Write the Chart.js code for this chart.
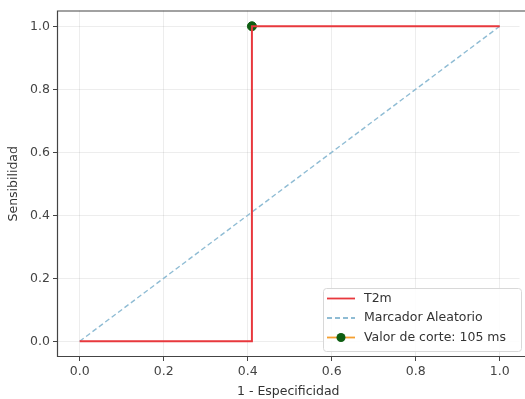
<!DOCTYPE html>
<html>
<head>
<meta charset="utf-8">
<script src="https://cdn.jsdelivr.net/npm/chart.js@4"></script>
<style>
  html, body { margin: 0; padding: 0; background: #fff; }
  #wrap { width: 525px; height: 399px; }
</style>
</head>
<body>
<div id="wrap"><canvas id="roc"></canvas></div>
<script>
// ROC curve (T2m)
const fpr = [0, 0.41, 0.41, 1];
const tpr = [0, 0, 1, 1];
const randomX = [0, 1];
const randomY = [0, 1];
const cutX = [0.41];
const cutY = [1];
const tickValues = [0, 0.2, 0.4, 0.6, 0.8, 1.0];

const legendItems = [
  { label: "T2m", color: "#e8383d", dash: [], dot: false },
  { label: "Marcador Aleatorio", color: "#8fbcd4", dash: [5, 3], dot: false },
  { label: "Valor de corte: 105 ms", color: "#f5a030", dash: [], dot: true },
];

const toPoints = (xs, ys) => xs.map((x, i) => ({ x: x, y: ys[i] }));

const frame = {
  id: "frame",
  afterDraw(chart) {
    const { ctx, chartArea: a } = chart;
    ctx.save();
    // left, top and bottom spines (right one falls off the image)
    ctx.strokeStyle = "#444";
    ctx.lineWidth = 1.2;
    ctx.beginPath();
    ctx.moveTo(chart.width, a.top + 0.5);
    ctx.lineTo(a.left + 0.5, a.top + 0.5);
    ctx.lineTo(a.left + 0.5, a.bottom - 0.5);
    ctx.lineTo(chart.width, a.bottom - 0.5);
    ctx.stroke();

    // legend box, lower right
    const x0 = 323, y0 = 288, w = 198, h = 63;
    ctx.fillStyle = "rgba(255,255,255,0.85)";
    ctx.strokeStyle = "#d8d8d8";
    ctx.lineWidth = 1;
    ctx.beginPath();
    ctx.roundRect(x0 + 0.5, y0 + 0.5, w, h, 3);
    ctx.fill();
    ctx.stroke();
    ctx.font = "12.5px 'DejaVu Sans'";
    ctx.textBaseline = "middle";
    legendItems.forEach((it, i) => {
      const y = y0 + 10.5 + i * 19.5;
      ctx.strokeStyle = it.color;
      ctx.lineWidth = 1.8;
      ctx.setLineDash(it.dash);
      ctx.beginPath();
      ctx.moveTo(x0 + 4, y);
      ctx.lineTo(x0 + 32, y);
      ctx.stroke();
      ctx.setLineDash([]);
      if (it.dot) {
        ctx.fillStyle = "#0e5e12";
        ctx.beginPath();
        ctx.arc(x0 + 18, y, 4.5, 0, Math.PI * 2);
        ctx.fill();
      }
      ctx.fillStyle = "#333";
      ctx.fillText(it.label, x0 + 41, y);
    });
    ctx.restore();
  },
};

const tickFont = { family: "DejaVu Sans", size: 12.5 };

new Chart(document.getElementById("roc"), {
  type: "scatter",
  data: {
    datasets: [
      {
        label: "T2m",
        data: toPoints(fpr, tpr),
        showLine: true,
        borderColor: "#e8383d",
        borderWidth: 2,
        pointRadius: 0,
      },
      {
        label: "Marcador Aleatorio",
        data: toPoints(randomX, randomY),
        showLine: true,
        borderColor: "#8fbcd4",
        borderDash: [5, 3],
        borderWidth: 1.4,
        pointRadius: 0,
      },
      {
        label: "Valor de corte: 105 ms",
        data: toPoints(cutX, cutY),
        pointRadius: 4.5,
        pointBackgroundColor: "#0e5e12",
        pointBorderColor: "#0e5e12",
      },
    ],
  },
  options: {
    responsive: true,
    maintainAspectRatio: false,
    animation: false,
    layout: { padding: { top: 9, right: 1, left: 0, bottom: 0 } },
    plugins: {
      legend: { display: false },
      tooltip: { enabled: false },
    },
    scales: {
      x: {
        type: "linear",
        min: -0.054,
        max: 1.047,
        afterBuildTicks: (s) => { s.ticks = tickValues.map((v) => ({ value: v })); },
        afterFit: (s) => { s.height = 42; },
        ticks: {
          font: tickFont,
          color: "#444",
          padding: 3,
          maxRotation: 0,
          callback: (v) => v.toFixed(1),
        },
        grid: { color: "rgba(0,0,0,0.07)", tickColor: "#444", tickLength: 4 },
        border: { display: false },
        title: {
          display: true,
          text: "1 - Especificidad",
          font: tickFont,
          color: "#333",
          padding: { top: 0, bottom: 0 },
        },
      },
      y: {
        type: "linear",
        min: -0.05,
        max: 1.05,
        afterBuildTicks: (s) => { s.ticks = tickValues.map((v) => ({ value: v })); },
        afterFit: (s) => { s.width = 57; },
        ticks: {
          font: tickFont,
          color: "#444",
          padding: 3,
          callback: (v) => v.toFixed(1),
        },
        grid: { color: "rgba(0,0,0,0.07)", tickColor: "#444", tickLength: 4 },
        border: { display: false },
        title: {
          display: true,
          text: "Sensibilidad",
          font: tickFont,
          color: "#333",
          padding: { top: 6, bottom: 0 },
        },
      },
    },
  },
  plugins: [frame],
});
</script>
</body>
</html>
